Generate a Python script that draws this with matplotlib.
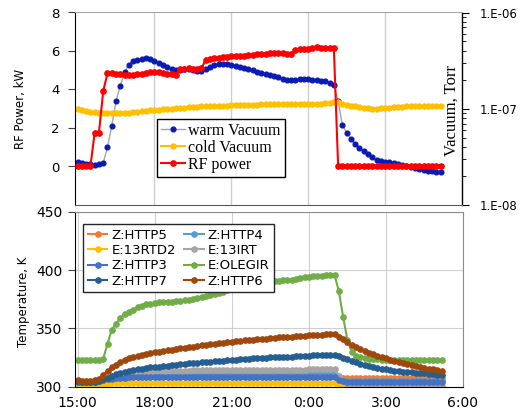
import numpy as np
import matplotlib

matplotlib.use("Agg")

import matplotlib.pyplot as plt
from matplotlib.ticker import FixedLocator, FuncFormatter, LogLocator, NullFormatter


# logger samples every 10 min starting at 15:00 (hours, >24 = next day)
t_hours = 15 + np.arange(86) * 10 / 60

# RF power, kW
rf_power = [
    0, 0, 0, 0, 1.75, 1.75, 3.9, 4.85, 4.88, 4.82,
    4.78, 4.76, 4.75, 4.76, 4.78, 4.80, 4.85, 4.90, 4.93, 4.90,
    4.85, 4.83, 4.82, 4.76, 5.05, 5.08, 5.10, 5.08, 5.07, 5.10,
    5.55, 5.60, 5.62, 5.65, 5.67, 5.70, 5.72, 5.75, 5.74, 5.73,
    5.77, 5.80, 5.82, 5.85, 5.87, 5.90, 5.88, 5.92, 5.90, 5.87,
    5.85, 6.05, 6.10, 6.12, 6.10, 6.15, 6.20, 6.18, 6.17, 6.18,
    6.15, 0, 0, 0, 0, 0, 0, 0, 0, 0,
    0, 0, 0, 0, 0, 0, 0, 0, 0, 0,
    0, 0, 0, 0, 0, 0,
]

# vacuum, in units of 1e-8 Torr
warm_vacuum = [
    2.78, 2.73, 2.69, 2.65, 2.63, 2.69, 2.75, 3.98, 6.61, 12.0,
    17.4, 24.0, 28.8, 31.2, 32.4, 33.1, 33.4, 32.8, 31.6, 29.9,
    28.2, 26.9, 25.9, 25.1, 25.4, 25.7, 25.8, 25.4, 24.9, 24.7,
    25.7, 27.3, 28.4, 29.0, 29.2, 29.2, 28.8, 27.9, 27.2, 26.5,
    25.9, 25.1, 24.3, 23.8, 23.1, 22.6, 22.0, 21.2, 20.4, 20.0,
    19.7, 20.0, 20.3, 20.5, 20.3, 20.1, 20.0, 19.5, 19.2, 18.6,
    17.8, 12.0, 6.76, 5.62, 4.83, 4.31, 3.89, 3.60, 3.36, 3.13,
    2.95, 2.86, 2.82, 2.78, 2.73, 2.68, 2.61, 2.54, 2.48, 2.40,
    2.34, 2.30, 2.27, 2.23, 2.20, 2.18,
]
cold_vacuum = [
    9.9, 9.7, 9.5, 9.3, 9.2, 9.1, 9.0, 9.0, 9.0, 9.0,
    9.0, 9.1, 9.1, 9.2, 9.3, 9.4, 9.5, 9.6, 9.7, 9.8,
    9.9, 10.0, 10.0, 10.1, 10.2, 10.3, 10.4, 10.5, 10.5, 10.6,
    10.6, 10.7, 10.7, 10.8, 10.8, 10.8, 10.9, 10.9, 10.9, 11.0,
    11.0, 11.0, 11.0, 11.1, 11.1, 11.1, 11.1, 11.2, 11.2, 11.2,
    11.2, 11.2, 11.3, 11.3, 11.2, 11.2, 11.3, 11.3, 11.4, 11.6,
    11.8, 11.7, 11.3, 11.0, 10.8, 10.6, 10.4, 10.2, 10.1, 10.0,
    10.0, 10.1, 10.2, 10.3, 10.4, 10.5, 10.5, 10.6, 10.6, 10.6,
    10.6, 10.6, 10.6, 10.6, 10.6, 10.6,
]

# temperatures, K
z_http5 = [
    304, 304, 304, 304, 304.3, 305, 305.8, 306.5, 307.2, 307.7,
    308, 308.3, 308.5, 308.6, 308.7, 308.8, 308.8, 308.8, 308.8, 308.8,
    308.8, 308.8, 308.8, 308.8, 308.8, 308.8, 308.8, 308.8, 308.8, 308.8,
    308.8, 308.8, 308.8, 308.8, 308.8, 308.8, 308.8, 308.8, 308.8, 308.8,
    308.8, 308.8, 308.8, 308.8, 308.8, 308.8, 308.8, 308.8, 308.8, 308.8,
    308.8, 308.8, 308.8, 308.8, 308.8, 308.8, 308.8, 308.8, 308.8, 308.8,
    308.8, 308.6, 307.8, 307.4, 307.3, 307.3, 307.3, 307.3, 307.3, 307.3,
    307.3, 307.3, 307.3, 307.3, 307.3, 307.3, 307.3, 307.3, 307.3, 307.3,
    307.3, 307.3, 307.3, 307.3, 307.3, 307.3,
]
z_http4 = [
    304.5, 304.4, 304.3, 304.3, 304.6, 305.5, 306.5, 307.5, 308.3, 309,
    309.5, 309.8, 310.1, 310.3, 310.5, 310.6, 310.7, 310.8, 310.8, 310.8,
    310.8, 310.8, 310.8, 310.8, 310.8, 310.8, 310.8, 310.8, 310.8, 310.8,
    310.8, 310.8, 310.8, 310.8, 310.8, 310.8, 310.8, 310.8, 310.8, 310.8,
    310.8, 310.8, 310.8, 310.8, 310.8, 310.8, 310.8, 310.8, 310.8, 310.8,
    310.8, 310.8, 310.8, 310.8, 310.8, 310.8, 310.8, 310.8, 310.8, 310.8,
    310.7, 307, 305.2, 304.7, 304.5, 304.5, 304.5, 304.5, 304.5, 304.5,
    304.5, 304.5, 304.5, 304.5, 304.5, 304.5, 304.5, 304.5, 304.5, 304.5,
    304.5, 304.5, 304.5, 304.5, 304.5, 304.5,
]
e_13rtd2 = [
    302, 302, 302, 302, 302, 302, 302.3, 302.7, 303, 303,
    303, 303, 303, 303, 303, 303, 303, 303, 303, 303,
    303, 303, 303, 303, 303, 303, 303, 303, 303, 303,
    303, 303, 303, 303, 303, 303, 303, 303, 303, 303,
    303, 303, 303, 303, 303, 303, 303, 303, 303, 303,
    303, 303, 303, 303, 303, 303, 303, 303, 303, 303,
    303, 301.5, 299.5, 299, 299, 299, 299, 299, 299, 299,
    299, 299, 299, 299, 299, 299, 299, 299, 299, 299,
    299, 299, 299, 299, 299, 299,
]
e_13irt = [
    304, 304, 304, 304, 304.5, 305.5, 306.5, 307.5, 308.5, 309.3,
    310, 310.7, 311.3, 311.8, 312.2, 312.5, 312.8, 313, 313.2, 313.4,
    313.5, 313.6, 313.6, 313.7, 313.7, 313.8, 313.8, 313.9, 313.9, 314,
    314, 314, 314.1, 314.1, 314.2, 314.2, 314.2, 314.3, 314.3, 314.3,
    314.3, 314.3, 314.4, 314.4, 314.4, 314.4, 314.5, 314.5, 314.5, 314.6,
    314.6, 314.6, 314.7, 314.7, 314.8, 314.8, 314.8, 314.9, 314.9, 315,
    315, 309, 305, 302, 300.5, 300.3, 300.3, 300.3, 300.3, 300.3,
    300.3, 300.3, 300.3, 300.3, 300.3, 300.3, 300.3, 300.3, 300.3, 300.3,
    300.3, 300.3, 300.3, 300.3, 300.3, 300.3,
]
z_http3 = [
    304.3, 304.2, 304, 304, 304.2, 304.8, 305.5, 306.2, 306.8, 307.2,
    307.5, 307.7, 307.9, 308, 308.1, 308.2, 308.2, 308.3, 308.3, 308.3,
    308.3, 308.3, 308.4, 308.4, 308.4, 308.4, 308.4, 308.4, 308.4, 308.4,
    308.4, 308.4, 308.4, 308.4, 308.4, 308.4, 308.4, 308.4, 308.4, 308.4,
    308.3, 308.3, 308.3, 308.3, 308.3, 308.3, 308.3, 308.3, 308.3, 308.3,
    308.3, 308.3, 308.3, 308.3, 308.3, 308.3, 308.3, 308.3, 308.3, 308.3,
    308.2, 306, 304.5, 304.3, 304.2, 304.2, 304.2, 304.2, 304.2, 304.2,
    304.2, 304.2, 304.2, 304.2, 304.2, 304.2, 304.2, 304.2, 304.2, 304.2,
    304.2, 304.2, 304.2, 304.2, 304.2, 304.2,
]
e_olegir = [
    323, 323, 323, 323, 323, 323, 324, 337, 349, 354,
    359, 362, 364, 366, 368, 369, 370.5, 371.2, 371.8, 372.2,
    372.5, 372.8, 373, 373.2, 373.6, 374, 374.5, 375, 376, 377,
    378, 378.7, 379.5, 380.5, 381.5, 382.5, 383.5, 384.5, 385.5, 386.5,
    387.5, 388.3, 389, 389.6, 390.2, 390.5, 390.8, 391, 391.3, 391.5,
    391.7, 392.5, 393.3, 393.8, 394.2, 394.6, 395, 395.3, 395.5, 395.7,
    395.8, 382, 360, 340, 330, 326.5, 325.3, 324.5, 324, 323.7,
    323.5, 323.3, 323.2, 323.1, 323, 323, 323, 323, 323, 323,
    323, 323, 323, 323, 323, 323,
]
z_http7 = [
    304.5, 304.2, 304, 304, 304.3, 305, 306.3, 307.8, 309.5, 310.8,
    312, 313, 313.8, 314.5, 315.1, 315.6, 316.1, 316.5, 316.9, 317.3,
    317.7, 318.1, 318.5, 318.9, 319.3, 319.6, 319.9, 320.2, 320.5, 320.8,
    321.1, 321.4, 321.7, 322, 322.3, 322.6, 322.9, 323.2, 323.5, 323.8,
    324.1, 324.3, 324.5, 324.7, 324.9, 325.1, 325.3, 325.5, 325.6, 325.7,
    325.8, 326, 326.2, 326.4, 326.6, 326.8, 327, 327.1, 327.2, 327.2,
    327.1, 326, 324.8, 323.5, 322.2, 321, 319.8, 318.7, 317.8, 317,
    316.2, 315.5, 314.9, 314.3, 313.8, 313.4, 313, 312.7, 312.4, 312.1,
    311.8, 311.5, 311.1, 310.7, 310.3, 310,
]
z_http6 = [
    305.5, 305, 304.8, 305, 305.5, 307, 310, 313.5, 316.5, 319,
    321.3, 323, 324.3, 325.4, 326.4, 327.2, 328, 328.7, 329.4, 330,
    330.5, 331.1, 331.7, 332.3, 332.9, 333.4, 333.9, 334.4, 334.9, 335.4,
    335.8, 336.3, 336.8, 337.3, 337.7, 338.1, 338.5, 338.9, 339.3, 339.7,
    340, 340.3, 340.7, 341, 341.3, 341.6, 341.9, 342.2, 342.5, 342.7,
    342.9, 343.2, 343.5, 343.8, 344, 344.2, 344.4, 344.7, 345, 345.2,
    345.3, 343, 340.5, 338, 335.7, 333.8, 332, 330.5, 329, 327.7,
    326.5, 325.4, 324.3, 323.3, 322.3, 321.4, 320.5, 319.6, 318.8, 318,
    317.2, 316.4, 315.6, 314.8, 314, 313.2,
]

temp_series = [
    ("Z:HTTP5", z_http5, "#ED7D31"),
    ("Z:HTTP4", z_http4, "#5B9BD5"),
    ("E:13RTD2", e_13rtd2, "#FFC000"),
    ("E:13IRT", e_13irt, "#A5A5A5"),
    ("Z:HTTP3", z_http3, "#4472C4"),
    ("E:OLEGIR", e_olegir, "#70AD47"),
    ("Z:HTTP7", z_http7, "#255E91"),
    ("Z:HTTP6", z_http6, "#9E480E"),
]

x_ticks = [15, 18, 21, 24, 27, 30]

SANS = "DejaVu Sans"
SERIF = "Liberation Serif"
GRID = "#CFCFCF"

plt.rcParams["font.family"] = SANS

W, H = 521, 411
fig = plt.figure(figsize=(W / 100, H / 100), dpi=100)

ax_rf = fig.add_axes([75 / W, 1 - 205 / H, 387 / W, 192.5 / H])
ax_vac = ax_rf.twinx()
ax_t = fig.add_axes([75 / W, 1 - 386.7 / H, 388 / W, 175 / H])

# ---- top panel: vacuum (log, right) + RF power (left)
h_warm, = ax_vac.plot(
    t_hours, np.array(warm_vacuum) * 1e-8,
    color="#A6A6A6", lw=1.0, marker="o", ms=3.4,
    mfc="#0A1AB4", mec="#0A1AB4", label="warm Vacuum", zorder=3,
)
h_cold, = ax_vac.plot(
    t_hours, np.array(cold_vacuum) * 1e-8,
    color="#FFC000", lw=1.5, marker="o", ms=3.6, label="cold Vacuum", zorder=3,
)
h_rf, = ax_rf.plot(
    t_hours, rf_power,
    color="#FF0000", lw=1.5, marker="o", ms=3.8, label="RF power", zorder=3,
)

# vertical grid drawn as plain lines on the lower (vacuum) axes
for xt in x_ticks[1:-1]:
    ax_vac.axvline(xt, color=GRID, lw=1.0, zorder=1)

# RF trace sits on top of the vacuum traces
ax_rf.set_zorder(ax_vac.get_zorder() + 1)
ax_rf.patch.set_visible(False)

ax_rf.set_xlim(14.9, 30)
ax_rf.set_ylim(-2, 8)
ax_rf.set_yticks([0, 2, 4, 6, 8])
ax_rf.tick_params(axis="y", direction="out", length=5, pad=6, labelsize=9.5, color="#404040")
ax_rf.tick_params(axis="x", length=0, labelbottom=False)
ax_rf.xaxis.set_major_locator(FixedLocator(x_ticks))

ax_vac.set_yscale("log")
ax_vac.set_ylim(1e-8, 1e-6)
ax_vac.yaxis.set_major_locator(FixedLocator([1e-8, 1e-7, 1e-6]))
ax_vac.yaxis.set_major_formatter(
    FuncFormatter(lambda v, _: f"1.E-{abs(int(round(np.log10(v)))):02d}")
)
ax_vac.yaxis.set_minor_locator(LogLocator(base=10, subs=np.arange(2, 10)))
ax_vac.yaxis.set_minor_formatter(NullFormatter())
ax_vac.tick_params(axis="y", which="major", direction="out", length=5, pad=8, labelsize=8.5)
ax_vac.tick_params(axis="y", which="minor", direction="out", length=3)
ax_vac.set_xlim(14.9, 30)

for name in ("left", "top", "bottom"):
    ax_vac.spines[name].set_visible(False)
ax_vac.spines["right"].set_color("black")
ax_vac.spines["right"].set_linewidth(1.0)
ax_rf.spines["right"].set_visible(False)
ax_rf.spines["top"].set_color("#A6A6A6")
ax_rf.spines["left"].set_color("black")
ax_rf.spines["bottom"].set_color("#595959")

leg_top = ax_rf.legend(
    handles=[h_warm, h_cold, h_rf],
    loc="upper left", bbox_to_anchor=(157 / W, 1 - 119 / H),
    bbox_transform=fig.transFigure,
    prop={"family": SERIF, "size": 11.5},
    frameon=True, fancybox=False, edgecolor="black", framealpha=1,
    handlelength=1.5, handletextpad=0.2, labelspacing=0.05,
    borderpad=0.25, borderaxespad=0,
)
leg_top.get_frame().set_linewidth(1.0)

# ---- bottom panel: temperatures
handles = {}
for label, vals, color in temp_series:
    h, = ax_t.plot(t_hours, vals, color=color, lw=1.5, marker="o", ms=3.8, label=label)
    handles[label] = h

ax_t.set_xlim(14.9, 30)
ax_t.set_ylim(300, 450)
ax_t.set_yticks([300, 350, 400, 450])
ax_t.xaxis.set_major_locator(FixedLocator(x_ticks))
ax_t.xaxis.set_major_formatter(FuncFormatter(lambda v, _: f"{int(round(v)) % 24}:00"))
ax_t.tick_params(axis="y", direction="out", length=5, pad=4, labelsize=10, color="#404040")
ax_t.tick_params(axis="x", length=0, pad=7, labelsize=10)
ax_t.grid(True, color=GRID, lw=0.8)
ax_t.set_axisbelow(True)
ax_t.spines["left"].set_color("black")
ax_t.spines["bottom"].set_color("black")
ax_t.spines["top"].set_color("#8C8C8C")
ax_t.spines["right"].set_color("#8C8C8C")

# Excel fills the two legend columns row by row
legend_order = [
    "Z:HTTP5", "E:13RTD2", "Z:HTTP3", "Z:HTTP7",
    "Z:HTTP4", "E:13IRT", "E:OLEGIR", "Z:HTTP6",
]
leg_bot = ax_t.legend(
    handles=[handles[k] for k in legend_order],
    loc="upper left", bbox_to_anchor=(83 / W, 1 - 224 / H),
    bbox_transform=fig.transFigure, ncol=2,
    prop={"family": SANS, "size": 9.5},
    frameon=True, fancybox=False, edgecolor="#262626", framealpha=1,
    handlelength=1.5, handletextpad=0.3, labelspacing=0.18,
    columnspacing=0.6, borderpad=0.35, borderaxespad=0,
)
leg_bot.get_frame().set_linewidth(1.0)

# ---- axis titles
fig.text(21 / W, 1 - 109 / H, "RF Power, kW", rotation=90, ha="center", va="center", fontsize=8.5)
fig.text(24 / W, 1 - 302 / H, "Temperature, K", rotation=90, ha="center", va="center", fontsize=8.5)
fig.text(452 / W, 1 - 110 / H, "Vacuum, Torr", rotation=90, ha="center", va="center",
         family=SERIF, fontsize=12)

fig.savefig("out.png", dpi=100)
